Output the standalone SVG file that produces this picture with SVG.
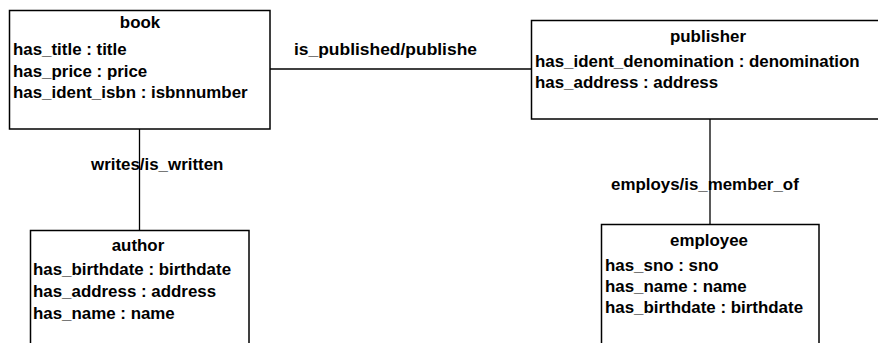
<svg xmlns="http://www.w3.org/2000/svg" width="878" height="343" viewBox="0 0 878 343">
<style>
.box{fill:#fff;stroke:#000;stroke-width:1.5}
.ln{stroke:#000;stroke-width:1.3;fill:none}
text{font-family:"Liberation Sans",Arial,sans-serif;font-weight:bold;font-size:16.9px;fill:#000}
.t{text-anchor:middle}
</style>
<rect width="878" height="343" fill="#fff"/>
<g id="connectors">
<line class="ln" x1="270" y1="69" x2="531" y2="69"/>
<line class="ln" x1="139.5" y1="129" x2="139.5" y2="230"/>
<line class="ln" x1="710" y1="119" x2="710" y2="224"/>
<text x="294" y="55" textLength="183" lengthAdjust="spacingAndGlyphs">is_published/publishe</text>
<text x="91" y="170">writes/is_written</text>
<text x="611" y="190">employs/is_member_of</text>
</g>
<g id="book">
<rect class="box" x="9.5" y="10.5" width="260.5" height="118.5"/>
<text class="t" x="140" y="28">book</text>
<text x="13" y="55">has_title : title</text>
<text x="13" y="77">has_price : price</text>
<text x="13" y="98">has_ident_isbn : isbnnumber</text>
</g>
<g id="publisher">
<rect class="box" x="531.5" y="20.5" width="360" height="98.5"/>
<text class="t" x="708" y="42">publisher</text>
<text x="535" y="67">has_ident_denomination : denomination</text>
<text x="535" y="88">has_address : address</text>
</g>
<g id="author">
<rect class="box" x="30.5" y="230.5" width="218.5" height="130"/>
<text class="t" x="138" y="251">author</text>
<text x="33" y="275">has_birthdate : birthdate</text>
<text x="33" y="297">has_address : address</text>
<text x="33" y="319">has_name : name</text>
</g>
<g id="employee">
<rect class="box" x="601.5" y="224.5" width="217.5" height="140"/>
<text class="t" x="709" y="246">employee</text>
<text x="605" y="271">has_sno : sno</text>
<text x="605" y="292">has_name : name</text>
<text x="605" y="313">has_birthdate : birthdate</text>
</g>
</svg>
